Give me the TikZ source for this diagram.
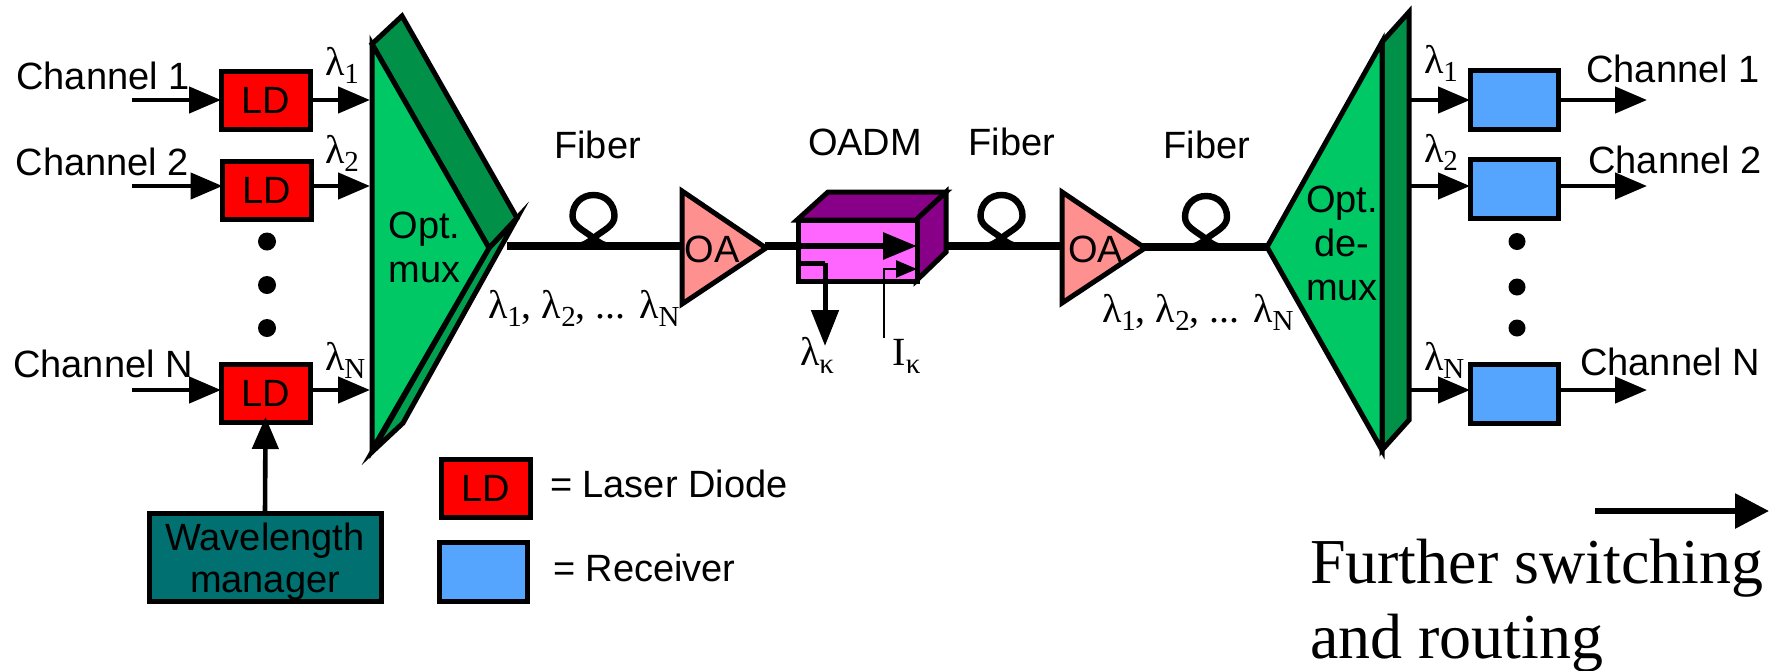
\documentclass[tikz,border=0pt]{standalone}
\usepackage{fontspec}
\setmainfont{Liberation Sans}
\newfontfamily\timesfont{Liberation Serif}
\usepackage{xcolor}
\usepackage{tikz}
\usetikzlibrary{arrows.meta,calc,positioning}

\definecolor{muxgreen}{HTML}{00C864}
\definecolor{muxdark}{HTML}{009048}
\definecolor{muxside}{HTML}{00A050}
\definecolor{ampred}{HTML}{FF9090}
\definecolor{oadmfront}{HTML}{FF66FF}
\definecolor{oadmdark}{HTML}{880088}
\definecolor{wmteal}{HTML}{007070}
\definecolor{rxblue}{HTML}{55A5FF}

\newcommand{\symsub}[2]{{\timesfont\fontsize{20}{20}\selectfont #1\raisebox{-4pt}{\fontsize{14.5}{14.5}\selectfont #2}}}
\newcommand{\lamlist}{\symsub{λ}{1}{\timesfont\fontsize{20}{20}\selectfont, }\symsub{λ}{2}{\timesfont\fontsize{20}{20}\selectfont, ... }\symsub{λ}{N}}

\begin{document}
\begin{tikzpicture}[x=0.5pt, y=-0.5pt, every node/.style = {align=center, inner sep=0pt, outer sep=0pt, font=\fontsize{19}{22}\selectfont}]
	\tikzset{ ldbox/.style = { draw, line width=2.5pt, fill=red, minimum width=44.5pt, minimum height=29pt } }
	\tikzset{ rxbox/.style = { draw, line width=2.5pt, fill=rxblue, minimum width=44pt, minimum height=29.5pt } }
	\tikzset{ wmbox/.style = { draw, line width=2.5pt, fill=wmteal, minimum width=116pt, minimum height=44pt, text depth=0pt, font=\fontsize{19}{21}\selectfont } }
	\tikzset{ txt/.style = { anchor=base } }
	\tikzset{ lamtxt/.style = { anchor=base west } }
	\tikzset{ face/.style = { draw, line width=2.5pt } }
	\tikzset{ sigarrow/.style = { line width=2.3pt, -{Triangle[length=16pt,width=13pt]} } }
	\tikzset{ fiberline/.style = { line width=3.7pt } }
	\tikzset{ fiberloop/.pic = {
			\draw[line width=3.2pt] (-20,0) .. controls (-10,0) and (-6,-3) .. (0,-8)
				.. controls (10,-16) and (21,-20) .. (21,-30)
				.. controls (21,-42) and (12,-51) .. (0,-51)
				.. controls (-12,-51) and (-21,-42) .. (-21,-30)
				.. controls (-21,-20) and (-10,-16) .. (0,-8)
				.. controls (6,-3) and (10,0) .. (20,0);
		}
	}

	\useasboundingbox (0,0) rectangle (1780,670);

	\coordinate (in1) at (132,100);
	\coordinate (in2) at (132,186);
	\coordinate (inN) at (132,390);
	\coordinate (mux1) at (370,100);
	\coordinate (mux2) at (370,186);
	\coordinate (muxN) at (370,390);
	\coordinate (muxout) at (507,246);
	\coordinate (amp1in) at (682,246);
	\coordinate (amp1out) at (765,246);
	\coordinate (amp2in) at (1062,246);
	\coordinate (amp2out) at (1142,247);
	\coordinate (demuxin) at (1267,247);
	\coordinate (demux1) at (1409,100);
	\coordinate (demux2) at (1409,186);
	\coordinate (demuxN) at (1409,390);
	\coordinate (out1) at (1647,100);
	\coordinate (out2) at (1647,186);
	\coordinate (outN) at (1647,390);
	\coordinate (oadmtap) at (825,263);
	\coordinate (oadmdrop) at (825,346);
	\coordinate (oadmfoot) at (884,338);
	\coordinate (oadmbend) at (884,269);
	\coordinate (moreA) at (1595,511);
	\coordinate (moreB) at (1769,511);

	\draw[face, fill=muxside] (489,248) -- (517,218) -- (403,423) -- (372,452) -- cycle;
	\draw[face, fill=muxdark] (372,44) -- (402,16) -- (517,218) -- (489,248) -- cycle;
	\draw[face, fill=muxgreen] (372,44) -- (489,248) -- (372,450) -- cycle;
	\node (muxtxt) at (424.5,247) {Opt.\\mux};

	\draw[face, fill=muxdark] (1382,42) -- (1409,12) -- (1409,420) -- (1382,450) -- cycle;
	\draw[face, fill=muxgreen] (1382,42) -- (1267,247) -- (1382,450) -- cycle;
	\node (demuxtxt) at (1342,243) {Opt.\\de-\\mux};

	\node[ldbox] (LD1) at (265.5,100) {LD};
	\node[ldbox] (LD2) at (267,190) {LD};
	\node[ldbox] (LDN) at (265.5,393) {LD};
	\node[rxbox] (RX1) at (1514,100) {};
	\node[rxbox] (RX2) at (1514,189) {};
	\node[rxbox] (RXN) at (1514,393.5) {};
	\node[wmbox] (WM) at (265,557.5) {Wavelength\\manager};
	\node[ldbox] (keyLD) at (486,488) {LD};
	\node[rxbox] (keyRX) at (483.5,571.5) {};

	\draw[sigarrow] (in1) -- (in1 -| LD1.west);
	\draw[sigarrow] (in2) -- (in2 -| LD2.west);
	\draw[sigarrow] (inN) -- (inN -| LDN.west);
	\draw[sigarrow] (mux1 -| LD1.east) -- (mux1);
	\draw[sigarrow] (mux2 -| LD2.east) -- (mux2);
	\draw[sigarrow] (muxN -| LDN.east) -- (muxN);
	\draw[sigarrow] (demux1) -- (demux1 -| RX1.west);
	\draw[sigarrow] (demux2) -- (demux2 -| RX2.west);
	\draw[sigarrow] (demuxN) -- (demuxN -| RXN.west);
	\draw[sigarrow] (out1 -| RX1.east) -- (out1);
	\draw[sigarrow] (out2 -| RX2.east) -- (out2);
	\draw[sigarrow] (outN -| RXN.east) -- (outN);
	\draw[sigarrow, shorten >=-2.5pt] (WM.north) -- (LDN.south);

	\node[fill=black, circle, minimum size=9pt] (dotL1) at (267,241.5) {};
	\node[fill=black, circle, minimum size=9pt] (dotL2) at (267,285) {};
	\node[fill=black, circle, minimum size=9pt] (dotL3) at (267,328) {};
	\node[fill=black, circle, minimum size=8.5pt] (dotR1) at (1517,241.5) {};
	\node[fill=black, circle, minimum size=8.5pt] (dotR2) at (1517,287) {};
	\node[fill=black, circle, minimum size=8.5pt] (dotR3) at (1517,328) {};

	\draw[face, fill=oadmdark] (797,220) -- (828,192) -- (946,192) -- (916,220) -- cycle;
	\draw[face, fill=oadmdark] (916,220) -- (946,192) -- (946,252) -- (916,281) -- cycle;
	\node[draw, line width=2.5pt, fill=oadmfront, minimum width=59.5pt, minimum height=30.5pt] (OADM) at (857.5,250.5) {};

	\draw[fiberline] (muxout) -- (amp1in);
	\draw[fiberline] (amp1out) -- (OADM.west |- amp1out);
	\draw[fiberline] (946,246) -- (amp2in);
	\draw[fiberline] (amp2out) -- (demuxin);
	\pic at (593.5,246) {fiberloop};
	\pic at (1001.5,246) {fiberloop};
	\pic at (1206,247) {fiberloop};

	\draw[face, fill=ampred] (682,191) -- (766,248) -- (682,304) -- cycle;
	\draw[face, fill=ampred] (1062,192) -- (1145,248) -- (1062,303) -- cycle;
	\node[txt] (OA1) at (712,262.5) {OA};
	\node[txt] (OA2) at (1095.5,262.5) {OA};

	\draw[line width=3pt, -{Triangle[length=17pt,width=13pt]}] (OADM.west |- amp1in) -- (OADM.east |- amp1in);
	\draw[line width=2.5pt] (OADM.west |- oadmtap) -- (oadmtap);
	\draw[line width=2.5pt, -{Triangle[length=18pt,width=13.5pt]}] (oadmtap) -- (oadmdrop);
	\draw[line width=1.25pt, -{Triangle[length=10.5pt,width=8.5pt]}] (oadmfoot) -- (oadmbend) -- (oadmbend -| OADM.east);

	\draw[line width=3pt, -{Triangle[length=17pt,width=17pt]}] (moreA) -- (moreB);

	\node[txt] (ch1L) at (103,89) {Channel 1};
	\node[txt] (ch2L) at (102.5,175) {Channel 2};
	\node[txt] (chNL) at (103,377) {Channel N};
	\node[txt] (ch1R) at (1673,82) {Channel 1};
	\node[txt] (ch2R) at (1675,173) {Channel 2};
	\node[txt] (chNR) at (1670,375) {Channel N};

	\node[lamtxt] (lam1L) at (325,75) {\symsub{λ}{1}};
	\node[lamtxt] (lam2L) at (325,163) {\symsub{λ}{2}};
	\node[lamtxt] (lamNL) at (325,370) {\symsub{λ}{N}};
	\node[lamtxt] (lam1R) at (1424,73) {\symsub{λ}{1}};
	\node[lamtxt] (lam2R) at (1424,162) {\symsub{λ}{2}};
	\node[lamtxt] (lamNR) at (1424,370) {\symsub{λ}{N}};
	\node[lamtxt] (lamsA) at (488,318) {\lamlist};
	\node[lamtxt] (lamsB) at (1102,322) {\lamlist};
	\node[lamtxt] (lamK) at (800,365) {\symsub{λ}{κ}};
	\node[lamtxt] (iK) at (892.5,365) {\symsub{I}{κ}};

	\node[txt] (fib1) at (597.5,158) {Fiber};
	\node[txt] (oadmtxt) at (865,155) {OADM};
	\node[txt] (fib2) at (1012,155) {Fiber};
	\node[txt] (fib3) at (1207,158) {Fiber};

	\node[lamtxt] (keyLDtxt) at (550,497) {= Laser Diode};
	\node[lamtxt] (keyRXtxt) at (553,581) {= Receiver};

	\node[lamtxt, font=\timesfont\fontsize{32}{37.5}\selectfont] (moretxt) at (1310,583) {Further switching};
	\node[lamtxt, font=\timesfont\fontsize{32}{37.5}\selectfont] (moretxtb) at (1310,658) {and routing};
\end{tikzpicture}
\end{document}
